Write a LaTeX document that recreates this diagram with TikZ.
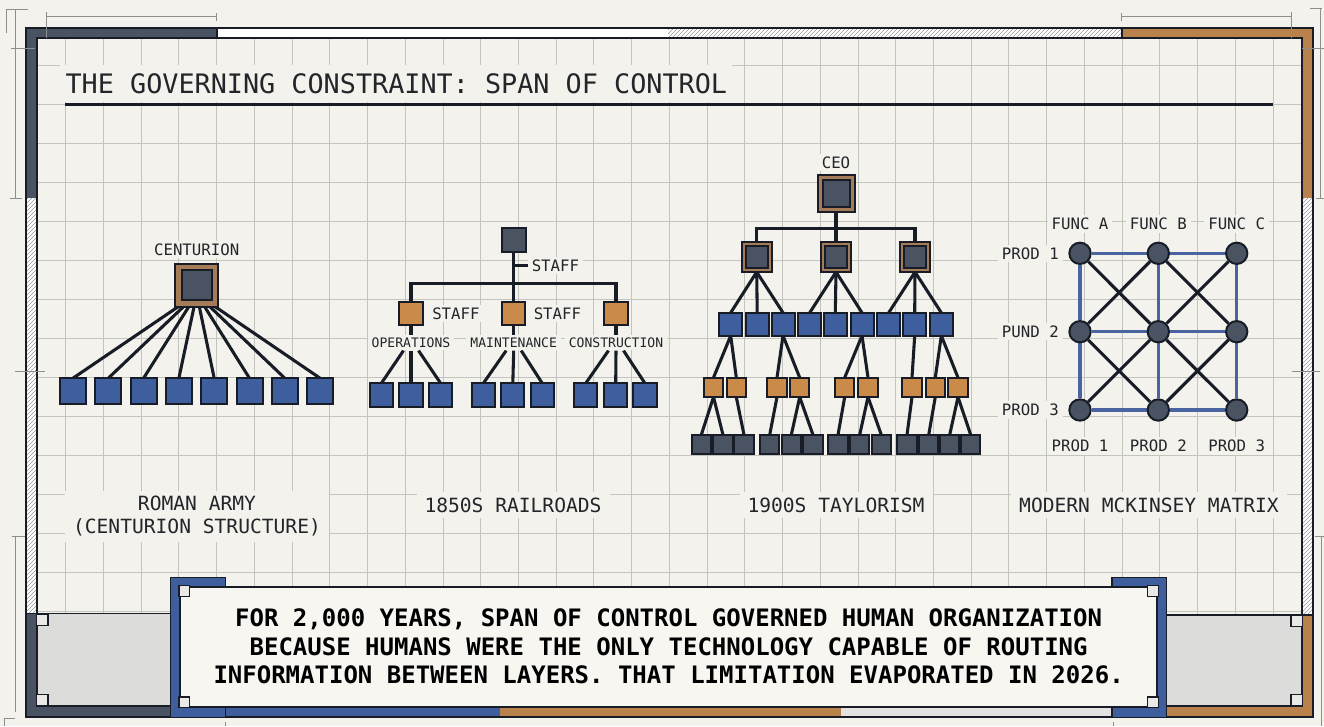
\documentclass[tikz,border=0pt]{standalone}
\usepackage{fontspec}
\newfontfamily\monof{DejaVu Sans Mono}
\usetikzlibrary{patterns,calc}
\definecolor{bg}{HTML}{F3F2EC}
\definecolor{boxbg}{HTML}{F7F6F1}
\definecolor{gridc}{HTML}{C4C4BF}
\definecolor{ink}{HTML}{171C27}
\definecolor{txt}{HTML}{23252A}
\definecolor{slate}{HTML}{4A5361}
\definecolor{blueF}{HTML}{3F5E9E}
\definecolor{orangeF}{HTML}{CA8A4A}
\definecolor{tanF}{HTML}{A67C58}
\definecolor{frameBrown}{HTML}{B9814B}
\definecolor{panel}{HTML}{DCDCDA}
\definecolor{lgrey}{HTML}{E2E2E0}
\definecolor{mblue}{HTML}{4A64A2}
\definecolor{dimc}{HTML}{8E8E8E}
\definecolor{hatchc}{HTML}{9A9A9A}
\definecolor{cornerF}{HTML}{E9E9E7}
\pgfdeclarelayer{back}
\pgfdeclarelayer{edges}
\pgfsetlayers{back,edges,main}
\begin{document}
\begin{tikzpicture}[x=0.75pt,y=-0.75pt,
  wire/.style={draw=ink,line width=2.3pt},
  sqbox/.style={draw=ink,line width=1.5pt,inner sep=0pt,outer sep=0pt,minimum size=#1},
  bsq/.style={sqbox=#1,fill=blueF},
  osq/.style={sqbox=#1,fill=orangeF},
  dsq/.style={sqbox=#1,fill=slate},
  tsq/.style={sqbox=#1,fill=tanF},
  csq/.style={sqbox=#1,fill=cornerF,line width=1pt},
  mdot/.style={circle,draw=ink,line width=1.5pt,fill=slate,minimum size=16pt,inner sep=0pt},
  lbl/.style={fill=bg,text=txt,inner xsep=3pt,inner ysep=2pt,font=\monof\fontsize{11.8}{14}\selectfont},
  dept/.style={lbl,font=\monof\fontsize{9.8}{12}\selectfont},
  caption/.style={fill=bg,text=txt,inner xsep=6pt,inner ysep=4pt,align=center,font=\monof\fontsize{14.7}{17.25}\selectfont},
  gridl/.style={draw=gridc,line width=0.75pt},
  dim/.style={draw=dimc,line width=0.6pt},
  hatch/.style={pattern=north east lines,pattern color=hatchc},
]
\useasboundingbox (0,0) rectangle (1324,726);
\begin{pgfonlayer}{back}
\fill[bg] (0,0) rectangle (1324,726);
\begin{scope}
\clip (36.7,38.3) rectangle (1302.3,705.7);
\foreach \i in {1,...,33} \draw[gridl] ({27.97+37.73*\i},38.3) -- ({27.97+37.73*\i},705.7);
\foreach \j in {0,...,16} \draw[gridl] (36.7,{65.7+39*\j}) -- (1302.3,{65.7+39*\j});
\end{scope}
% top band
\fill[slate] (26,27.7) rectangle (217,38.3);
\fill[white] (217,27.7) rectangle (1122,38.3);
\fill[hatch] (668,27.7) rectangle (1122,38.3);
\fill[frameBrown] (1122,27.7) rectangle (1312.7,38.3);
% left band
\fill[slate] (26,27.7) rectangle (36.7,198.3);
\fill[white] (26,198.3) rectangle (36.7,613.5);
\fill[hatch] (26,198.3) rectangle (36.7,613.5);
\fill[slate] (26,613.5) rectangle (36.7,717.3);
% right band
\fill[frameBrown] (1302.3,27.7) rectangle (1312.7,198.3);
\fill[white] (1302.3,198.3) rectangle (1312.7,615);
\fill[hatch] (1302.3,198.3) rectangle (1312.7,615);
\fill[frameBrown] (1302.3,615) rectangle (1312.7,717.3);
% bottom band
\fill[slate] (26,705.7) rectangle (171,717.3);
\fill[blueF] (171,705.7) rectangle (500,717.3);
\fill[frameBrown] (500,705.7) rectangle (841,717.3);
\fill[lgrey] (841,705.7) rectangle (1112,717.3);
\fill[frameBrown] (1167,705.7) rectangle (1312.7,717.3);
% grey panels
\fill[panel] (36.7,613.5) rectangle (171,705.7);
\fill[panel] (1167,615) rectangle (1302.3,705.7);
% outlines
\draw[ink,line width=1.3pt] (26,27.7) rectangle (1312.7,717.3);
\draw[ink,line width=1.3pt] (36.7,38.3) rectangle (1302.3,705.7);
\draw[ink,line width=1pt] (26,613.5) -- (171,613.5);
\draw[ink,line width=1pt] (1167,615) -- (1312.7,615);
\draw[ink,line width=0.8pt] (217,27.7) -- (217,38.3) (1122,27.7) -- (1122,38.3);
% brackets of the message box
\draw[ink,line width=1pt,fill=blueF] (170.7,577.3) rectangle (225.3,717.3);
\draw[ink,line width=1pt,fill=blueF] (1112,577.3) rectangle (1166.7,717.3);
% dimension marks
\draw[dim] (46.7,16.7) -- (216.7,16.7) (46.7,11.7) -- (46.7,38) (216.7,13) -- (216.7,20.7);
\draw[dim] (6.7,33) -- (6.7,9.3) -- (28,9.3) (15,9.3) -- (15,198.3) (11,48.3) -- (35,48.3) (10,198.3) -- (21.7,198.3);
\draw[dim] (15,371.7) -- (45,371.7);
\draw[dim] (11.7,536.7) -- (25,536.7) (15,536.7) -- (15,712) (4,726) -- (4,718) -- (15,718);
\draw[dim] (225,721.7) -- (225,726) (1113,721.7) -- (1113,726);
\draw[dim] (1121.7,16.7) -- (1291.7,16.7) (1121.7,13) -- (1121.7,21) (1291.7,11.7) -- (1291.7,38);
\draw[dim] (1310,8.3) -- (1322,8.3) (1320,8.3) -- (1320,198.3) (1302,48.3) -- (1324,48.3) (1316,198.3) -- (1324,198.3);
\draw[dim] (1291.7,371.7) -- (1320,371.7);
\draw[dim] (1315,536.7) -- (1324,536.7) (1321.7,536.7) -- (1321.7,726);
\end{pgfonlayer}

% title
\node[anchor=base west,fill=bg,inner xsep=4pt,inner ysep=6.5pt,text=txt,font=\monof\fontsize{20.1}{24}\selectfont] (title) at (60,93.3) {THE GOVERNING CONSTRAINT: SPAN OF CONTROL};
\draw[ink,line width=2.2pt] (65,104.3) -- (1273.3,104.3);

% ---------- Roman army
\node[lbl] (cenl) at (196.7,249.3) {CENTURION};
\node[tsq=32.25pt] (cen) at (196.7,285) {};
\node[dsq=22.5pt] (ceni) at (196.7,285) {};
\foreach \i in {0,...,7} \node[bsq=19.5pt] (s\i) at ({72.8+35.35*\i},391.3) {};
\begin{pgfonlayer}{edges}
\foreach \i in {0,...,7} \draw[wire] ($(cen.south)+({(\i-3.5)*5.2},0)$) -- (s\i.north);
\end{pgfonlayer}
\node[caption] (c1) at (197,516.5) {ROMAN ARMY\\(CENTURION STRUCTURE)};

% ---------- Railroads
\node[dsq=18pt] (rt) at (513.7,239.5) {};
\coordinate (rbar) at (513.7,283.3);
\coordinate (rst) at (513.7,265.7);
\node[lbl,anchor=west] (rstl) at (527.5,265.7) {STAFF};
\node[osq=17.5pt] (ro1) at (411,313.8) {};
\node[osq=17.5pt] (ro2) at (513.7,313.8) {};
\node[osq=17.5pt] (ro3) at (616,313.8) {};
\node[lbl,anchor=west] (rs1) at (428,313.3) {STAFF};
\node[lbl,anchor=west] (rs2) at (529.5,313.3) {STAFF};
\node[dept] (rd1) at (411,342.7) {OPERATIONS};
\node[dept] (rd2) at (513.7,342.7) {MAINTENANCE};
\node[dept] (rd3) at (616,342.7) {CONSTRUCTION};
\node[bsq=17.5pt] (rc11) at (381.3,395) {};
\node[bsq=17.5pt] (rc12) at (411,395) {};
\node[bsq=17.5pt] (rc13) at (440.7,395) {};
\node[bsq=17.5pt] (rc21) at (483.3,395) {};
\node[bsq=17.5pt] (rc22) at (512.8,395) {};
\node[bsq=17.5pt] (rc23) at (542.3,395) {};
\node[bsq=17.5pt] (rc31) at (585.7,395) {};
\node[bsq=17.5pt] (rc32) at (615.7,395) {};
\node[bsq=17.5pt] (rc33) at (645,395) {};
\begin{pgfonlayer}{edges}
\draw[wire] (rt.south) -- (rbar);
\draw[wire] (rst) -- (rstl.west);
\draw[wire] (ro1.north) |- (rbar) -| (ro3.north);
\draw[wire] (rbar) -- (ro2.north);
\foreach \k in {1,2,3} {
  \draw[wire] (ro\k.south) -- (rd\k.north);
  \draw[wire] ($(rd\k.south)+(-7.5,0)$) -- (rc\k1.north);
  \draw[wire] (rd\k.south) -- (rc\k2.north);
  \draw[wire] ($(rd\k.south)+(7.5,0)$) -- (rc\k3.north);
}
\end{pgfonlayer}
\node[caption] (c2) at (513,505) {1850S RAILROADS};

% ---------- Taylorism
\node[lbl] (ceol) at (836,162.7) {CEO};
\node[tsq=27.75pt] (ceo) at (836,193.3) {};
\node[dsq=20.25pt] (ceoi) at (836,193.3) {};
\coordinate (tbar) at (836,228.3);
\foreach \x [count=\k] in {756.7,836,915} {
  \node[tsq=22.5pt] (tm\k) at (\x,257) {};
  \node[dsq=16.5pt] (tm\k i) at (\x,257) {};
}
\foreach \x [count=\k] in {730.7,757.2,783,809.7,835.3,862,888.7,914.7,941.3}
  \node[bsq=17.25pt] (tb\k) at (\x,324.2) {};
\foreach \x [count=\k] in {713.5,736.3,777,799.7,844.7,868,912,935.3,958}
  \node[osq=14.6pt] (to\k) at (\x,387.3) {};
\foreach \x [count=\k] in {701.3,723,744,769.7,791.3,813,838,859.7,881.3,907,928.7,949.7,970.7}
  \node[dsq=14.5pt] (td\k) at (\x,444.5) {};
\begin{pgfonlayer}{edges}
\draw[wire] (ceo.south) -- (tbar);
\draw[wire] (tm1.north) |- (tbar) -| (tm3.north);
\draw[wire] (tbar) -- (tm2.north);
\foreach \a/\b in {tm1/tb1,tm1/tb2,tm1/tb3,tm2/tb4,tm2/tb5,tm2/tb6,tm3/tb7,tm3/tb8,tm3/tb9,
  tb1/to1,tb1/to2,tb3/to3,tb3/to4,tb6/to5,tb6/to6,tb8/to7,tb9/to8,tb9/to9,
  to1/td1,to1/td2,to2/td3,to3/td4,to4/td5,to4/td6,to5/td7,to6/td8,to6/td9,to7/td10,to8/td11,to9/td12,to9/td13}
  \draw[wire] (\a.south) -- (\b.north);
\end{pgfonlayer}
\node[caption] (c3) at (836,505) {1900S TAYLORISM};

% ---------- Matrix
\foreach \y [count=\r] in {253.3,331.7,410}
  \foreach \x [count=\c] in {1080,1158.3,1236.7}
    \node[mdot] (p\r\c) at (\x,\y) {};
\node[lbl] (fa) at (1080,224) {FUNC A};
\node[lbl] (fb) at (1158.3,224) {FUNC B};
\node[lbl] (fc) at (1236.7,224) {FUNC C};
\node[lbl,anchor=east] (pl1) at (1063,253.3) {PROD 1};
\node[lbl,anchor=east] (pl2) at (1063,331.7) {PUND 2};
\node[lbl,anchor=east] (pl3) at (1063,410) {PROD 3};
\node[lbl] (pb1) at (1080,446) {PROD 1};
\node[lbl] (pb2) at (1158.3,446) {PROD 2};
\node[lbl] (pb3) at (1236.7,446) {PROD 3};
\begin{pgfonlayer}{edges}
\foreach \r in {1,2,3} {
  \draw[draw=mblue,line width=2.4pt] (p\r1) -- (p\r2) -- (p\r3);
  \draw[draw=mblue,line width=2.4pt] (p1\r) -- (p2\r) -- (p3\r);
}
\draw[wire] (p11) -- (p22) -- (p33);
\draw[wire] (p13) -- (p22) -- (p31);
\draw[wire] (p21) -- (p12) -- (p23) -- (p32) -- (p21);
\end{pgfonlayer}
\node[caption] (c4) at (1149,505) {MODERN MCKINSEY MATRIX};

% ---------- panel corner marks
\node[csq=8.5pt,anchor=north west] (q1) at (36.7,614) {};
\node[csq=8.5pt,anchor=south west] (q2) at (36.7,705.7) {};
\node[csq=8.5pt,anchor=north east] (q3) at (1302.3,615) {};
\node[csq=8.5pt,anchor=south east] (q4) at (1302.3,705.7) {};

% ---------- message box
\node[draw=ink,line width=1.5pt,fill=boxbg,minimum width=733pt,minimum height=90pt,inner sep=0pt,align=center,text=black,
  font=\monof\bfseries\fontsize{18}{21.4}\selectfont] (msg) at (668.65,646.7)
  {FOR 2,000 YEARS, SPAN OF CONTROL GOVERNED HUMAN ORGANIZATION\\BECAUSE HUMANS WERE THE ONLY TECHNOLOGY CAPABLE OF ROUTING\\INFORMATION BETWEEN LAYERS. THAT LIMITATION EVAPORATED IN 2026.};
\node[csq=8pt,anchor=north west] (m1) at (msg.north west) {};
\node[csq=8pt,anchor=south west] (m2) at (msg.south west) {};
\node[csq=8pt,anchor=north east] (m3) at (msg.north east) {};
\node[csq=8pt,anchor=south east] (m4) at (msg.south east) {};
\end{tikzpicture}
\end{document}
